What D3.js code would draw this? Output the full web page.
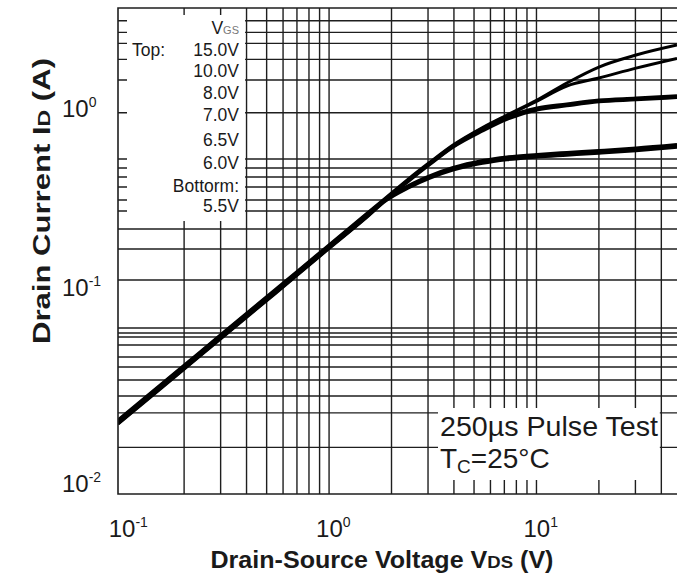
<!DOCTYPE html>
<html>
<head>
<meta charset="utf-8">
<script src="https://cdn.jsdelivr.net/npm/d3@7"></script>
<style>
  body { margin: 0; background: #fff; }
  text { font-family: "Liberation Sans", Arial, sans-serif; fill: #1a1a1a; }
</style>
</head>
<body>
<svg width="677" height="573"></svg>
<script>
// values (VDS in V, ID in A)
var vds  = [0.096, 0.153, 0.239, 0.372, 0.549, 0.935, 1.5, 1.88, 2.4, 3.07, 3.96, 5.5, 7.21, 10.06, 14, 20, 30.2, 47.6];
var id15 = [0.0193, 0.0291, 0.0430, 0.0635, 0.0892, 0.1475, 0.2322, 0.2886, 0.3652, 0.4562, 0.5678, 0.7112, 0.8352, 1.013, 1.261, 1.549, 1.807, 2.055];
var id10 = [0.0191, 0.0288, 0.0426, 0.0629, 0.0883, 0.146, 0.230, 0.2857, 0.3615, 0.4516, 0.562, 0.704, 0.826, 1.0, 1.213, 1.345, 1.528, 1.732];
var id8  = [0.0189, 0.0285, 0.0421, 0.0622, 0.0874, 0.1445, 0.2275, 0.2828, 0.3579, 0.447, 0.556, 0.697, 0.814, 0.914, 0.962, 1.013, 1.039, 1.071];
var id7  = [0.0187, 0.0282, 0.0417, 0.0616, 0.0865, 0.143, 0.225, 0.280, 0.354, 0.4425, 0.551, 0.68, 0.79, 0.89, 0.94, 0.99, 1.015, 1.045];
var id65 = [0.0186, 0.0281, 0.0415, 0.0613, 0.0861, 0.1422, 0.2237, 0.283, 0.336, 0.383, 0.425, 0.465, 0.487, 0.503, 0.516, 0.529, 0.546, 0.571];
var id6  = [0.0185, 0.0279, 0.0413, 0.061, 0.0857, 0.1415, 0.2225, 0.2798, 0.3308, 0.3762, 0.417, 0.4562, 0.4773, 0.4929, 0.5057, 0.519, 0.5359, 0.5605];
var id55 = [0.0184, 0.0277, 0.041, 0.0605, 0.085, 0.1405, 0.221, 0.277, 0.326, 0.371, 0.411, 0.449, 0.470, 0.486, 0.498, 0.511, 0.528, 0.552];
var series = [id15, id10, id8, id7, id65, id6, id55];

var vgsLabels = ["15.0V", "10.0V", "8.0V", "7.0V", "6.5V", "6.0V", "5.5V"];

var xTicks = [0.1, 1, 10];
var xTickExp = ["-1", "0", "1"];
var yTicks = [0.01, 0.1, 1];
var yTickExp = ["-2", "-1", "0"];

// grid lines as printed on the sheet (the scan's grid is not a clean log grid)
var xGrid = [0.2, 0.3, 0.4, 0.5, 0.6, 0.7, 0.8, 0.9, 1, 2, 3, 4, 5, 6, 7, 8, 9, 10, 20, 30, 40];
var yGrid = [2.81, 2.42, 2.10, 1.71, 1.31, 0.86, 0.474, 0.4224, 0.3762, 0.3308, 0.2798, 0.2429, 0.1927, 0.149, 0.1,
             0.0569, 0.0537, 0.0512, 0.0466, 0.0405, 0.036, 0.0309, 0.0256, 0.021, 0.014];

var svg = d3.select("svg"),
    pLeft = 118, pRight = 677, pTop = 8, pBottom = 494;

var x = d3.scaleLog()
    .domain([0.096, 47.6])
    .range([pLeft, pRight]);

// the printed decades are not equally tall, so a piecewise log scale
var y = d3.scaleLog()
    .domain([0.0081, 0.1, 3.31])
    .range([pBottom, 280, pTop]);

svg.append("clipPath").attr("id", "plot")
  .append("rect")
    .attr("x", pLeft).attr("y", pTop)
    .attr("width", pRight - pLeft).attr("height", pBottom - pTop);

var g = svg.append("g").attr("clip-path", "url(#plot)");

// grid
g.selectAll(".vgrid")
  .data(xGrid)
  .enter()
  .append("line")
    .attr("x1", function(d){ return x(d) })
    .attr("x2", function(d){ return x(d) })
    .attr("y1", pTop).attr("y2", pBottom)
    .attr("stroke", "#1e1e1e")
    .attr("stroke-width", 1.4);

g.selectAll(".hgrid")
  .data(yGrid)
  .enter()
  .append("line")
    .attr("x1", pLeft).attr("x2", pRight)
    .attr("y1", function(d){ return y(d) })
    .attr("y2", function(d){ return y(d) })
    .attr("stroke", "#1e1e1e")
    .attr("stroke-width", 1.4);

// blank legend area top-left and note area bottom-right
g.append("rect")
    .attr("x", pLeft + 9).attr("y", pTop + 7)
    .attr("width", x(0.4) - 1.5 - (pLeft + 9))
    .attr("height", y(0.1927) - 8 - (pTop + 7))
    .attr("fill", "#fff");

g.append("rect")
    .attr("x", 438).attr("y", 408)
    .attr("width", x(40) - 1.5 - 438)
    .attr("height", 72)
    .attr("fill", "#fff");

// curves
var line = d3.line()
    .x(function(d){ return x(d[0]) })
    .y(function(d){ return y(d[1]) })
    .curve(d3.curveMonotoneX);

g.selectAll(".curve")
  .data(series)
  .enter()
  .append("path")
    .attr("d", function(s){ return line(vds.map(function(v, i){ return [v, s[i]] })) })
    .attr("fill", "none")
    .attr("stroke", "#000")
    .attr("stroke-width", 3);

// frame (right side is cut off in the original)
svg.append("path")
    .attr("d", "M" + pRight + "," + pTop + "H" + pLeft + "V" + pBottom + "H" + pRight)
    .attr("fill", "none")
    .attr("stroke", "#1e1e1e")
    .attr("stroke-width", 1.6);

// tick labels
var xl = svg.append("g").selectAll("text")
  .data(xTicks)
  .enter()
  .append("text")
    .attr("x", function(d){ return x(d) - 13 })
    .attr("y", 537)
    .style("font-size", "24px");
xl.append("tspan").text("10");
xl.append("tspan").attr("dy", -10).style("font-size", "14px")
    .text(function(d, i){ return xTickExp[i] });

var yl = svg.append("g").selectAll("text")
  .data(yTicks)
  .enter()
  .append("text")
    .attr("x", 62)
    .attr("y", function(d){ return y(d) + 16 })
    .style("font-size", "24px");
yl.append("tspan").text("10");
yl.append("tspan").attr("dy", -10).style("font-size", "14px")
    .text(function(d, i){ return yTickExp[i] });

// axis titles
var xt = svg.append("text")
    .attr("x", 382).attr("y", 568)
    .attr("text-anchor", "middle")
    .attr("textLength", 343).attr("lengthAdjust", "spacingAndGlyphs")
    .style("font-size", "23px").style("font-weight", "bold");
xt.append("tspan").text("Drain-Source Voltage V");
xt.append("tspan").style("font-size", "17px").text("DS");
xt.append("tspan").text(" (V)");

var yt = svg.append("text")
    .attr("transform", "translate(50,201) rotate(-90)")
    .attr("text-anchor", "middle")
    .attr("textLength", 286).attr("lengthAdjust", "spacingAndGlyphs")
    .style("font-size", "23px").style("font-weight", "bold");
yt.append("tspan").text("Drain Current I");
yt.append("tspan").style("font-size", "17px").text("D");
yt.append("tspan").text(" (A)");

// legend
var lg = svg.append("g").style("font-size", "17.5px");
var vg = lg.append("text").attr("x", 239).attr("y", 34).attr("text-anchor", "end");
vg.append("tspan").text("V");
vg.append("tspan").style("font-size", "11px").style("fill", "#777").text("GS");
lg.append("text").attr("x", 132).attr("y", 56).text("Top:");
lg.append("text").attr("x", 239).attr("y", 192).attr("text-anchor", "end").text("Bottorm:");
var legendY = [56, 77, 99, 121, 146, 169, 212];
lg.selectAll(".vgs")
  .data(vgsLabels)
  .enter()
  .append("text")
    .attr("x", 239)
    .attr("y", function(d, i){ return legendY[i] })
    .attr("text-anchor", "end")
    .text(function(d){ return d });

// test conditions
var note = svg.append("g").style("font-size", "28px");
note.append("text").attr("x", 440).attr("y", 436)
    .attr("textLength", 218).attr("lengthAdjust", "spacingAndGlyphs")
    .text("250\u00b5s Pulse Test");
var tc = note.append("text").attr("x", 440).attr("y", 468);
tc.append("tspan").text("T");
tc.append("tspan").attr("dy", 5).style("font-size", "19px").text("C");
tc.append("tspan").attr("dy", -5).text("=25\u00b0C");
</script>
</body>
</html>
